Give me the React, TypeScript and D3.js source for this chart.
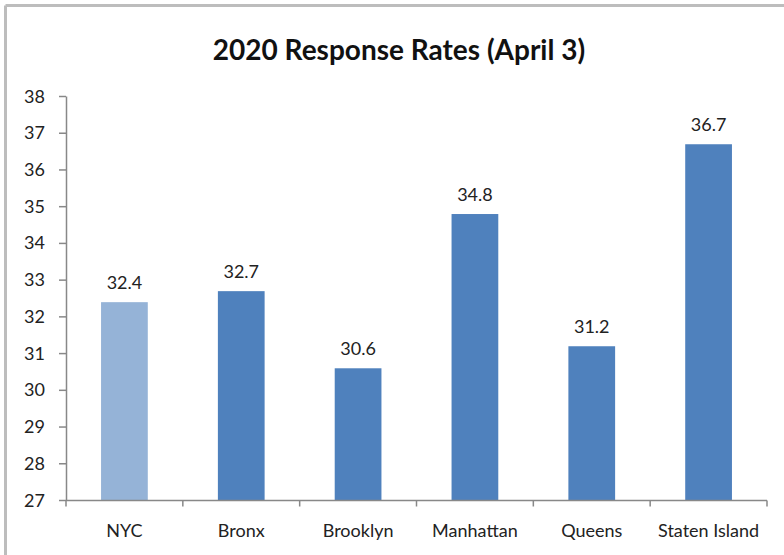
import React from "react";
import * as d3 from "d3";

const categories = ["NYC", "Bronx", "Brooklyn", "Manhattan", "Queens", "Staten Island"];
const values = [32.4, 32.7, 30.6, 34.8, 31.2, 36.7];
const yTicks = [27, 28, 29, 30, 31, 32, 33, 34, 35, 36, 37, 38];
const barColors = ["#95B3D7", "#4F81BD", "#4F81BD", "#4F81BD", "#4F81BD", "#4F81BD"];
const title = "2020 Response Rates (April 3)";

const W = 784;
const H = 555;
const left = 66;
const right = 767;
const top = 96.5;
const bottom = 500.5;
const font = "Lato, 'Open Sans', sans-serif";

export default function App() {
  const x = d3.scaleBand<string>().domain(categories).range([left, right]).paddingInner(0.6).paddingOuter(0.3);
  const xb = d3.scaleBand<string>().domain(categories).range([left, right]);
  const y = d3.scaleLinear().domain([27, 38]).range([bottom, top]);

  return (
    <svg width={W} height={H} style={{ position: "fixed", left: 0, top: 0, background: "#fff" }}>
      <rect x={0} y={0} width={W} height={H} fill="#fff" />
      <line x1={5.5} y1={5.5} x2={W} y2={5.5} stroke="#bdbdbd" strokeWidth={3} />
      <line x1={5.5} y1={5.5} x2={5.5} y2={H} stroke="#bdbdbd" strokeWidth={3} />
      <text x={399} y={60} textAnchor="middle" fontFamily={font} fontWeight="bold" fontSize={28} fill="#111">
        {title}
      </text>
      {categories.map((c, i) => (
        <g key={c}>
          <rect
            x={x(c)!}
            y={y(values[i])}
            width={x.bandwidth()}
            height={y(27) - y(values[i])}
            fill={barColors[i]}
          />
          <text
            x={x(c)! + x.bandwidth() / 2}
            y={y(values[i]) - 13}
            textAnchor="middle"
            fontFamily={font}
            fontSize={18}
            fill="#222"
          >
            {values[i].toFixed(1)}
          </text>
          <text
            x={xb(c)! + xb.bandwidth() / 2}
            y={537}
            textAnchor="middle"
            fontFamily={font}
            fontSize={18}
            fill="#222"
          >
            {c}
          </text>
        </g>
      ))}
      {/* y axis */}
      <line x1={left + 0.5} y1={top} x2={left + 0.5} y2={bottom} stroke="#888" strokeWidth={1.5} />
      {yTicks.map((t) => (
        <g key={t}>
          <line x1={59} y1={y(t)} x2={left} y2={y(t)} stroke="#888" strokeWidth={1.5} />
          <text x={45} y={y(t) + 6} textAnchor="end" fontFamily={font} fontSize={18} fill="#222">
            {t}
          </text>
        </g>
      ))}
      {/* x axis */}
      <line x1={left} y1={bottom} x2={right} y2={bottom} stroke="#888" strokeWidth={1.5} />
      {d3.range(categories.length + 1).map((k) => {
        const xp = left + k * xb.step();
        return <line key={k} x1={xp} y1={bottom} x2={xp} y2={bottom + 6} stroke="#888" strokeWidth={1.5} />;
      })}
    </svg>
  );
}
